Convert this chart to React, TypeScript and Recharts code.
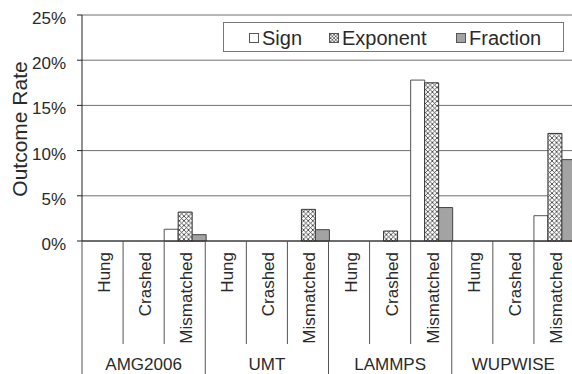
import React from "react";
import { BarChart, Bar, XAxis, YAxis, CartesianGrid } from "recharts";

const programs = ["AMG2006", "UMT", "LAMMPS", "WUPWISE"];
const outcomes = ["Hung", "Crashed", "Mismatched"];
const signRate = [0, 0, 1.3, 0, 0, 0, 0, 0, 17.8, 0, 0, 2.8];
const exponentRate = [0, 0, 3.2, 0, 0, 3.5, 0, 1.1, 17.5, 0, 0, 11.9];
const fractionRate = [0, 0, 0.7, 0, 0, 1.25, 0, 0, 3.7, 0, 0, 9.0];
const yTicks = [0, 5, 10, 15, 20, 25];

const data = programs.flatMap((p, pi) =>
  outcomes.map((o, oi) => {
    const i = pi * 3 + oi;
    return { key: `${p}-${o}`, outcome: o, sign: signRate[i], exponent: exponentRate[i], fraction: fractionRate[i] };
  })
);

const W = 576;
const H = 374;
const TOP = 15;
const XAXIS_H = 133;
const AXIS_Y = H - XAXIS_H;
const FONT = "'Liberation Sans', Arial, sans-serif";
const INK = "#2a2a2a";

function CategoryTick(props: any) {
  const { x, payload, index } = props;
  const half = payload?.offset ?? 20.5;
  const left = x - half;
  const right = x + half;
  const groupStart = index % 3 === 0;
  return (
    <g>
      <line x1={left} x2={left} y1={AXIS_Y} y2={groupStart ? H : 344} stroke="#555" strokeWidth={1} />
      {index === data.length - 1 && <line x1={right} x2={right} y1={AXIS_Y} y2={H} stroke="#555" />}
      <text
        transform={`translate(${x + 7.5},252) rotate(-90)`}
        textAnchor="end"
        fontSize={17}
        fontFamily={FONT}
        fill={INK}
      >
        {data[index]?.outcome}
      </text>
      {index % 3 === 1 && (
        <text x={x} y={370} textAnchor="middle" fontSize={17} fontFamily={FONT} fill={INK}>
          {programs[Math.floor(index / 3)]}
        </text>
      )}
    </g>
  );
}

function HatchSwatch() {
  return (
    <svg width={10} height={10} style={{ display: "block" }}>
      <defs>
        <pattern id="hatchSmall" width={3.4} height={3.4} patternUnits="userSpaceOnUse">
          <rect width={3.4} height={3.4} fill="#fff" />
          <path d="M0,0 L3.4,3.4 M3.4,0 L0,3.4" stroke="#444" strokeWidth={0.7} />
        </pattern>
      </defs>
      <rect x={0.5} y={0.5} width={9} height={9} fill="url(#hatchSmall)" stroke="#555" />
    </svg>
  );
}

function Swatch({ fill }: { fill: string }) {
  return (
    <svg width={10} height={10} style={{ display: "block" }}>
      <rect x={0.5} y={0.5} width={9} height={9} fill={fill} stroke="#555" />
    </svg>
  );
}

function LegendBox() {
  const item = (swatch: React.ReactNode, label: string, left: number) => (
    <div style={{ position: "absolute", left, top: 0, height: 30, display: "flex", alignItems: "center" }}>
      {swatch}
      <span style={{ marginLeft: 3, fontSize: 20, color: INK }}>{label}</span>
    </div>
  );
  return (
    <div
      style={{
        position: "absolute",
        left: 223,
        top: 22,
        width: 341,
        height: 30,
        boxSizing: "border-box",
        border: "1px solid #777",
        background: "#fff",
        fontFamily: FONT,
      }}
    >
      {item(<Swatch fill="#fff" />, "Sign", 25)}
      {item(<HatchSwatch />, "Exponent", 105)}
      {item(<Swatch fill="#a3a3a3" />, "Fraction", 232)}
    </div>
  );
}

export default function App() {
  return (
    <div style={{ position: "absolute", left: 0, top: 0, width: 572, height: H, overflow: "hidden", background: "#fff" }}>
      <BarChart
        width={W}
        height={H}
        data={data}
        margin={{ top: TOP, right: 1, left: 0, bottom: 0 }}
        barCategoryGap={0}
        barGap={0}
      >
        <defs>
          <pattern id="crosshatch" width={4.6} height={4.6} patternUnits="userSpaceOnUse">
            <rect width={4.6} height={4.6} fill="#fff" />
            <path d="M0,0 L4.6,4.6 M4.6,0 L0,4.6" stroke="#333" strokeWidth={0.8} />
          </pattern>
        </defs>
        <CartesianGrid vertical={false} stroke="#707070" strokeWidth={1} />
        <XAxis
          dataKey="key"
          interval={0}
          height={XAXIS_H}
          axisLine={{ stroke: "#222" }}
          tickLine={false}
          tick={<CategoryTick />}
        />
        <YAxis
          width={82}
          domain={[0, 25]}
          ticks={yTicks}
          tickFormatter={(v) => `${v}%`}
          axisLine={{ stroke: "#222" }}
          tickLine={{ stroke: "#222" }}
          tickSize={5}
          tickMargin={11}
          tick={{ fontSize: 17, fill: INK, fontFamily: FONT, dy: 3 }}
          label={() => (
            <text
              transform={`translate(27,129) rotate(-90)`}
              textAnchor="middle"
              fontSize={21}
              fontFamily={FONT}
              fill={INK}
            >
              Outcome Rate
            </text>
          )}
        />
        <Bar dataKey="sign" fill="#fff" stroke="#555" strokeWidth={1} isAnimationActive={false} />
        <Bar dataKey="exponent" fill="url(#crosshatch)" stroke="#333" strokeWidth={1} isAnimationActive={false} />
        <Bar dataKey="fraction" fill="#a3a3a3" stroke="#444" strokeWidth={1} isAnimationActive={false} />
      </BarChart>
      <LegendBox />
    </div>
  );
}
